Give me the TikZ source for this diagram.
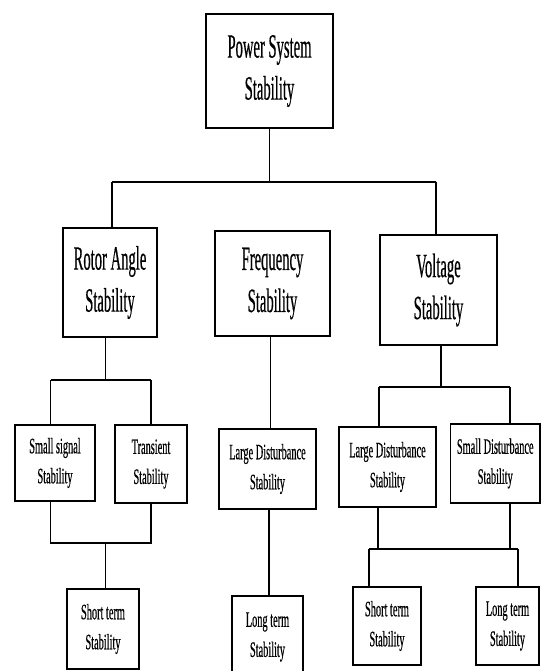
\documentclass[tikz,border=0pt]{standalone}
\usepackage{fontspec}
\setmainfont{Liberation Serif}
\newfontfamily\narrowfont[FakeStretch=0.43,FakeBold=0.4]{Liberation Serif}
\newfontfamily\snarrowfont[FakeStretch=0.47,FakeBold=0.4]{Liberation Serif}
\newcommand\bigtxt{\narrowfont\fontsize{34}{42}\selectfont}
\newcommand\smalltxt{\snarrowfont\fontsize{22}{30}\selectfont}
\tikzset{
  box/.style={draw, line width=1.7pt, inner sep=0pt, align=center, font=\bigtxt},
  sbox/.style={draw, line width=1.7pt, inner sep=0pt, align=center, font=\smalltxt},
  conn/.style={line width=1.3pt}
}
\begin{document}
\begin{tikzpicture}[x=1pt,y=-1pt]
\useasboundingbox (0,0) rectangle (543,671);
% level 0
\node[box, minimum width=127pt, minimum height=114pt] (top) at (269.5,71) {Power System\\Stability};
% level 1
\node[box, minimum width=94pt, minimum height=109pt] (rotor) at (110,282.5) {Rotor Angle\\Stability};
\node[box, minimum width=115pt, minimum height=105pt] (freq) at (272.5,283.5) {Frequency\\Stability};
\node[box, minimum width=117pt, minimum height=110pt] (volt) at (438.5,290) {Voltage\\Stability};
% level 2
\node[sbox, minimum width=80pt, minimum height=76pt] (small) at (55,463) {Small signal\\Stability};
\node[sbox, minimum width=72pt, minimum height=78pt] (trans) at (151,464) {Transient\\Stability};
\node[sbox, minimum width=97pt, minimum height=80pt] (fld) at (267.5,469) {Large Disturbance\\Stability};
\node[sbox, minimum width=97pt, minimum height=80pt] (vld) at (387.5,467) {Large Disturbance\\Stability};
\node[sbox, minimum width=89.5pt, minimum height=79pt] (vsd) at (495.25,463.5) {Small Disturbance\\Stability};
% level 3
\node[sbox, minimum width=72pt, minimum height=80pt] (st1) at (103,629) {Short term\\Stability};
\node[sbox, minimum width=71pt, minimum height=82pt] (lt1) at (267.5,637) {Long term\\Stability};
\node[sbox, minimum width=68pt, minimum height=78pt] (st2) at (387,626) {Short term\\Stability};
\node[sbox, minimum width=63pt, minimum height=78pt] (lt2) at (507.5,626) {Long term\\Stability};
% junction coordinates
\coordinate (b1) at (269.5,182);
\coordinate (b1l) at (112,182);
\coordinate (b1r) at (436,182);
\coordinate (b2) at (105.5,380);
\coordinate (b2l) at (50.5,380);
\coordinate (b2r) at (151,380);
\coordinate (b3) at (105.5,543);
\coordinate (b3l) at (50.5,543);
\coordinate (b3r) at (151,543);
\coordinate (f1) at (270.5,400);
\coordinate (f2) at (269,550);
\coordinate (b4) at (441,387);
\coordinate (b4l) at (379,387);
\coordinate (b4r) at (510,387);
\coordinate (b5a) at (378,549);
\coordinate (b5l) at (369,549);
\coordinate (b5r) at (518,549);
\coordinate (b5b) at (510,549);
% connectors
\draw[conn] (top.south) -- (b1);
\draw[conn] (b1l) -- (b1r);
\draw[conn] (b1l) -- (b1l |- rotor.north);
\draw[conn] (b1r) -- (b1r |- volt.north);
\draw[conn] (b2 |- rotor.south) -- (b2);
\draw[conn] (b2l) -- (b2r);
\draw[conn] (b2l) -- (b2l |- small.north);
\draw[conn] (b2r) -- (b2r |- trans.north);
\draw[conn] (b3l |- small.south) -- (b3l) -- (b3r) -- (b3r |- trans.south);
\draw[conn] (b3) -- (b3 |- st1.north);
\draw[conn] (f1 |- freq.south) -- (f1 |- fld.north);
\draw[conn] (f2 |- fld.south) -- (f2 |- lt1.north);
\draw[conn] (b4 |- volt.south) -- (b4);
\draw[conn] (b4l) -- (b4r);
\draw[conn] (b4l) -- (b4l |- vld.north);
\draw[conn] (b4r) -- (b4r |- vsd.north);
\draw[conn] (b5a |- vld.south) -- (b5a);
\draw[conn] (b5b |- vsd.south) -- (b5b);
\draw[conn] (b5l) -- (b5r);
\draw[conn] (b5l) -- (b5l |- st2.north);
\draw[conn] (b5r) -- (b5r |- lt2.north);
\end{tikzpicture}
\end{document}
